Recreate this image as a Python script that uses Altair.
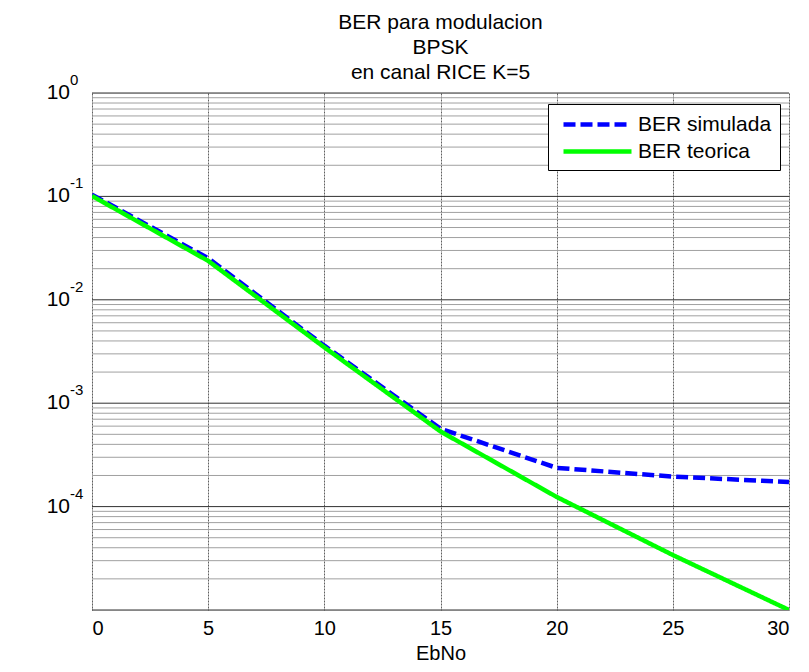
import altair as alt
import pandas as pd

# ---- data ----
ebno = [0, 5, 10, 15, 20, 25, 30]
ber_sim = [0.104, 0.0252, 0.0036, 0.000566, 0.000237, 0.000195, 0.000173]
ber_teo = [0.101, 0.0238, 0.00347, 0.000533, 0.000124, 0.000034, 0.00001]
series = ["BER simulada", "BER teorica"]
series_colors = ["#0000ff", "#00ff00"]
title_lines = ["BER para modulacion", "BPSK", " en canal RICE K=5"]
x_ticks = [0, 5, 10, 15, 20, 25, 30]
decades = [0, -1, -2, -3, -4]
y_major = [1, 0.1, 0.01, 0.001, 0.0001, 0.00001]
y_minor = [m * 10.0 ** e for e in range(-5, 0) for m in range(2, 10)]

F = "Liberation Sans"

df = pd.DataFrame({
    "EbNo": ebno * 2,
    "BER": ber_sim + ber_teo,
    "serie": [series[0]] * len(ebno) + [series[1]] * len(ebno),
})

xs = alt.Scale(domain=[0, 30], nice=False, zero=False)
ys = alt.Scale(type="log", domain=[1e-5, 1], nice=False)

minor = alt.Chart(pd.DataFrame({"v": y_minor})).mark_rule(
    color="#a0a0a0", strokeWidth=1
).encode(y=alt.Y("v:Q", scale=ys, axis=None))

major = alt.Chart(pd.DataFrame({"v": y_major})).mark_rule(
    color="#303030", strokeWidth=1
).encode(y=alt.Y("v:Q", scale=ys, axis=None))

leg = alt.Legend(
    title=None, orient="none", legendX=456, legendY=11,
    symbolType="M-0.5,0H6.3", symbolSize=400, symbolStrokeWidth=4.5,
    labelFontSize=21, labelFont=F, labelColor="black", labelOffset=57,
    fillColor="white", strokeColor="black", padding=8, rowPadding=4,
)

lines = alt.Chart(df).mark_line(strokeWidth=4.5, clip=True).encode(
    x=alt.X("EbNo:Q", scale=xs, axis=alt.Axis(
        values=x_ticks, title="EbNo", grid=True, gridColor="#606060",
        gridDash=[2, 1], ticks=False, domain=False,
        labelFontSize=20, labelFont=F, labelColor="black", labelPadding=8,
        titleFontSize=20, titleFont=F, titleFontWeight="normal",
        titleColor="black", titleY=49, titleBaseline="alphabetic")),
    y=alt.Y("BER:Q", scale=ys, axis=alt.Axis(
        title="BER", labels=False, ticks=False, domain=False, grid=False,
        titleFontSize=21, titleFont=F, titleFontWeight="normal",
        titleColor="black", titleX=-70, titleY=258, titleAlign="center",
        titleBaseline="middle")),
    color=alt.Color("serie:N", scale=alt.Scale(domain=series, range=series_colors), legend=leg),
    strokeDash=alt.StrokeDash("serie:N", scale=alt.Scale(domain=series, range=[[12, 5], [1, 0]]), legend=leg),
)

lab_df = pd.DataFrame({
    "v": [10.0 ** e for e in decades],
    "base": ["10"] * len(decades),
    "exp": [str(e) for e in decades],
})

ylab_base = alt.Chart(lab_df).mark_text(
    align="right", baseline="middle", fontSize=21, font=F, color="black"
).encode(x=alt.value(-22), y=alt.Y("v:Q", scale=ys, axis=None), text="base:N")

ylab_exp = alt.Chart(lab_df).mark_text(
    align="left", baseline="middle", fontSize=15, font=F, color="black", dy=-13
).encode(x=alt.value(-22), y=alt.Y("v:Q", scale=ys, axis=None), text="exp:N")

chart = alt.layer(minor, major, lines, ylab_base, ylab_exp).properties(
    width=697, height=517,
    autosize=alt.AutoSizeParams(type="none"),
    padding={"left": 84, "top": 85, "right": 12, "bottom": 54},
    title=alt.TitleParams(
        text=title_lines, fontSize=21, font=F, fontWeight="normal",
        anchor="middle", offset=-10, lineHeight=25, color="black"),
).configure_view(stroke="black", strokeWidth=1).configure(background="white")

chart.save("out.html", embed_options={"renderer": "svg", "actions": False})
